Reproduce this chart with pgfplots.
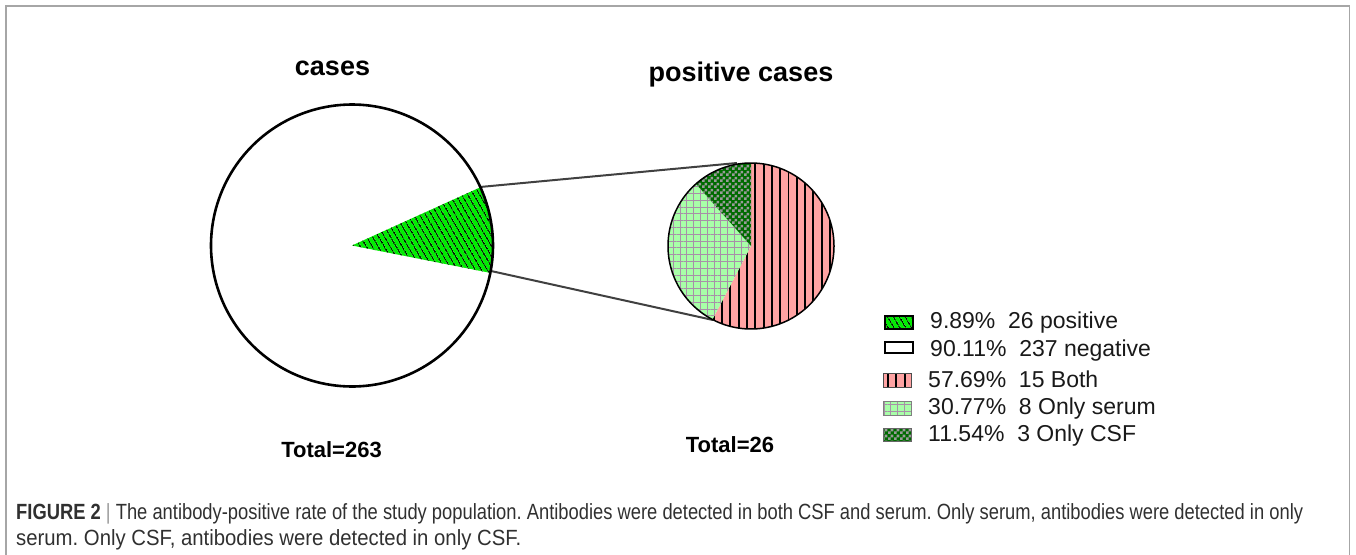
\documentclass[border=0pt]{standalone}
\usepackage{fontspec}
\setmainfont{Liberation Sans}
\usepackage{graphicx}
\usepackage{pgfplots}
\pgfplotsset{compat=1.18}
\usepackage{pgfplotstable}
\usetikzlibrary{patterns,patterns.meta}
\frenchspacing

\pgfdeclarepatternformonly{checksthree}{\pgfpointorigin}{\pgfqpoint{6pt}{6pt}}{\pgfqpoint{6pt}{6pt}}{%
  \pgfpathrectangle{\pgfpointorigin}{\pgfqpoint{3pt}{3pt}}%
  \pgfpathrectangle{\pgfqpoint{3pt}{3pt}}{\pgfqpoint{3pt}{3pt}}%
  \pgfusepath{fill}}

\definecolor{posgreen}{HTML}{00EE00}
\definecolor{bothpink}{HTML}{FFA3A3}
\definecolor{serumgreen}{HTML}{A8FFA8}
\definecolor{gridmauve}{HTML}{A890A8}
\definecolor{csfgreen}{HTML}{006A00}
\definecolor{checkgray}{HTML}{9A9A9A}
\definecolor{framegray}{HTML}{A6A6A6}
\definecolor{capgray}{HTML}{303030}
\definecolor{conngray}{HTML}{404040}

% all cases
\pgfplotstableread{
group value
positive 26
negative 237
}\casestable
% positive cases
\pgfplotstableread{
group value
Both 15
OnlySerum 8
OnlyCSF 3
}\postable

\pgfplotstablegetelem{0}{value}\of\casestable \let\vPos\pgfplotsretval
\pgfplotstablegetelem{1}{value}\of\casestable \let\vNeg\pgfplotsretval
\pgfplotstablegetelem{0}{value}\of\postable \let\vBoth\pgfplotsretval
\pgfplotstablegetelem{1}{value}\of\postable \let\vSerum\pgfplotsretval
\pgfplotstablegetelem{2}{value}\of\postable \let\vCSF\pgfplotsretval

% angles (degrees)
\pgfmathsetmacro\totA{\vPos+\vNeg}
\pgfmathsetmacro\aPosS{-11.2}
\pgfmathsetmacro\aPosE{\aPosS+360*\vPos/\totA}
\pgfmathsetmacro\aNegE{\aPosS+360}
\pgfmathsetmacro\totB{\vBoth+\vSerum+\vCSF}
\pgfmathsetmacro\aBoth{90-360*\vBoth/\totB}
\pgfmathsetmacro\aSerum{\aBoth-360*\vSerum/\totB}
\pgfmathsetmacro\aCSF{\aSerum-360*\vCSF/\totB}

\tikzset{
  poshatch/.style={postaction={pattern={Lines[angle=120,distance=5.4pt,line width=1.3pt]},pattern color=black}},
  bothhatch/.style={postaction={pattern={Lines[angle=90,distance=8.3pt,line width=1.9pt]},pattern color=black}},
  serumhatch/.style={postaction={pattern={Hatch[angle=0,distance=6.8pt,line width=1pt]},pattern color=gridmauve}},
  csfhatch/.style={postaction={pattern=checksthree,pattern color=checkgray}},
}

\begin{document}
\begin{tikzpicture}
\begin{axis}[
  at={(0pt,0pt)}, anchor=south west,
  scale only axis, width=1356pt, height=554pt,
  xmin=0, xmax=1356, ymin=0, ymax=554, y dir=reverse,
  hide axis, clip=false,
]
% frame
\draw[framegray, line width=1.4pt] (axis cs:6,600) -- (axis cs:6,6) -- (axis cs:1349.5,6) -- (axis cs:1349.5,600);

% connector lines
\addplot[conngray, line width=2pt] coordinates {(480,187) (737,163)};
\addplot[conngray, line width=2pt] coordinates {(491,271) (713,320)};

% left pie: all cases
\addplot[draw=none, fill=white, domain=\aPosE:\aNegE, samples=120, variable=\t]
  ({352+141*cos(\t)}, {245.5-141*sin(\t)}) -- (axis cs:352,245.5) -- cycle;
\addplot[draw=none, fill=posgreen, poshatch, domain=\aPosS:\aPosE, samples=40, variable=\t]
  ({352+141*cos(\t)}, {245.5-141*sin(\t)}) -- (axis cs:352,245.5) -- cycle;
\addplot[black, line width=2.6pt, domain=0:360, samples=180, variable=\t]
  ({352+141*cos(\t)}, {245.5-141*sin(\t)}) -- cycle;

% right pie: positive cases
\addplot[draw=none, fill=bothpink, bothhatch, domain=\aBoth:90, samples=100, variable=\t]
  ({751+83*cos(\t)}, {246-83*sin(\t)}) -- (axis cs:751,246) -- cycle;
\addplot[draw=none, fill=serumgreen, serumhatch, domain=\aSerum:\aBoth, samples=60, variable=\t]
  ({751+83*cos(\t)}, {246-83*sin(\t)}) -- (axis cs:751,246) -- cycle;
\addplot[draw=none, fill=csfgreen, csfhatch, domain=\aCSF:\aSerum, samples=30, variable=\t]
  ({751+83*cos(\t)}, {246-83*sin(\t)}) -- (axis cs:751,246) -- cycle;
\addplot[black, line width=1.5pt, domain=0:360, samples=180, variable=\t]
  ({751+83*cos(\t)}, {246-83*sin(\t)}) -- cycle;

% titles
\node[anchor=base, font=\fontsize{27}{32}\selectfont\bfseries] at (axis cs:332.5,75) {cases};
\node[anchor=base, font=\fontsize{27}{32}\selectfont\bfseries] at (axis cs:741,81) {positive cases};
\node[anchor=base, font=\fontsize{22}{26}\selectfont\bfseries] at (axis cs:331.5,457) {Total=263};
\node[anchor=base, font=\fontsize{22}{26}\selectfont\bfseries] at (axis cs:730,452) {Total=26};

% legend keys
\addplot[black, line width=2.4pt, fill=posgreen, poshatch] coordinates {(885,316) (913,316) (913,329) (885,329)} -- cycle;
\addplot[black, line width=2.4pt, fill=white] coordinates {(885,342) (913,342) (913,353) (885,353)} -- cycle;
\addplot[black!70, line width=0.8pt, fill=bothpink, bothhatch] coordinates {(883,373) (911,373) (911,387) (883,387)} -- cycle;
\addplot[black!50, line width=0.8pt, fill=serumgreen, serumhatch] coordinates {(883,401) (911,401) (911,415) (883,415)} -- cycle;
\addplot[black!60, line width=0.8pt, fill=csfgreen, csfhatch] coordinates {(883,428) (911,428) (911,441) (883,441)} -- cycle;

% legend texts
\begin{scope}[every node/.style={anchor=base west, inner sep=0pt, font=\fontsize{23}{26}\selectfont, text=black!90}]
\node at (axis cs:930,328) {9.89\%\hspace{0.556em}26 positive};
\node at (axis cs:930,356) {90.11\%\hspace{0.556em}237 negative};
\node at (axis cs:928,387) {57.69\%\hspace{0.556em}15 Both};
\node at (axis cs:928,414) {30.77\%\hspace{0.556em}8 Only serum};
\node at (axis cs:928,441) {11.54\%\hspace{0.556em}3 Only CSF};
\end{scope}

% caption
\node[anchor=base west, inner sep=0pt, font=\fontsize{22}{26}\selectfont, text=capgray] at (axis cs:16,519)
  {\resizebox{1287pt}{\height}{\textbf{FIGURE 2}\ {\color{black!40}|}\ The antibody-positive rate of the study population. Antibodies were detected in both CSF and serum. Only serum, antibodies were detected in only}};
\node[anchor=base west, inner sep=0pt, font=\fontsize{22}{26}\selectfont, text=capgray] at (axis cs:16,545)
  {\resizebox{505pt}{\height}{serum. Only CSF, antibodies were detected in only CSF.}};
\end{axis}
\pgfresetboundingbox
\useasboundingbox (0pt,0pt) rectangle (1356pt,554pt);
\end{tikzpicture}
\end{document}
